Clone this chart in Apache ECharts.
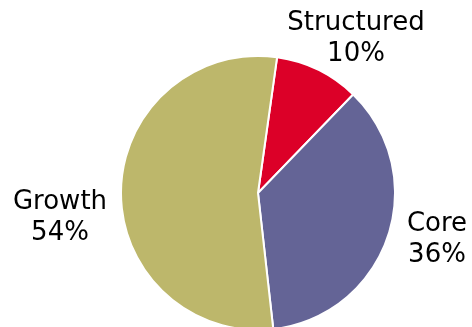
<!DOCTYPE html>
<html>
<head>
<meta charset="utf-8">
<script src="https://cdn.jsdelivr.net/npm/echarts@6/dist/echarts.min.js"></script>
<style>
  html, body { margin: 0; padding: 0; background: #fff; }
  #chart { width: 472px; height: 327px; }
</style>
</head>
<body>
<div id="chart"></div>
<script>
var names = ["Structured", "Core", "Growth"];
var shares = [10, 36, 54];
var colors = ["#dc0028", "#646496", "#bdb76b"];
// where each label sits (center of text block)
var labelPos = [[356, 39], [437, 240], [60, 218]];

var chart = echarts.init(document.getElementById("chart"));
var option = {
  animation: false,
  series: [
    {
      type: "pie",
      center: [258, 193],
      radius: 137,
      startAngle: 82,
      clockwise: true,
      data: names.map(function (n, i) {
        return { name: n, value: shares[i], itemStyle: { color: colors[i] } };
      }),
      itemStyle: { borderColor: "#fff", borderWidth: 2 },
      label: {
        show: true,
        position: "outside",
        formatter: function (p) { return p.name + "\n" + p.value + "%"; },
        fontFamily: "DejaVu Sans",
        fontSize: 26,
        lineHeight: 31,
        color: "#000",
        align: "center",
        overflow: "none",
        width: 200
      },
      labelLine: { show: false },
      labelLayout: function (params) {
        var p = labelPos[params.dataIndex];
        return { x: p[0], y: p[1], align: "center", verticalAlign: "middle", hideOverlap: false };
      }
    }
  ]
};
chart.setOption(option);
</script>
</body>
</html>
